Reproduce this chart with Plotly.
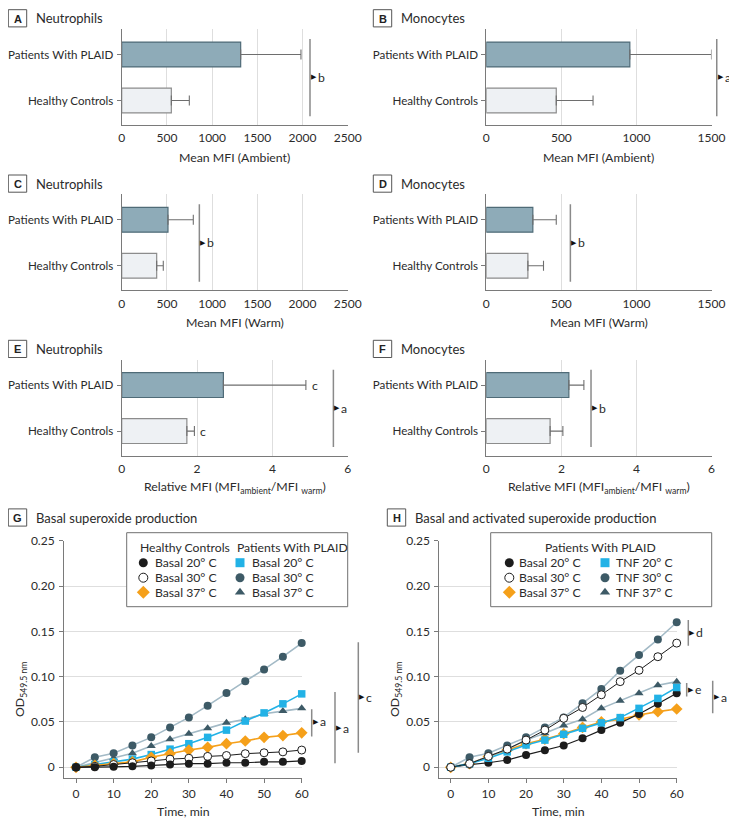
import plotly.graph_objects as go

# The page body has an 8 px margin, so the figure is shifted by OFF px.
OFF = 8
PW, PH = 737, 828              # reference picture size
W, H = PW - OFF, PH - OFF      # figure size
FONT = "Lato"
TXT = "#2b2b2b"

# ---------------- data ----------------
categories = ["Healthy Controls", "Patients With PLAID"]

a_mean = [549, 1316]
a_err = [199, 667]
b_mean = [466, 956]
b_err = [245, 544]
c_mean = [387, 512]
c_err = [73, 280]
d_mean = [277, 310]
d_err = [104, 156]
e_mean = [1.73, 2.70]
e_err = [0.20, 2.19]
f_mean = [1.70, 2.20]
f_err = [0.34, 0.40]

sig_values = {"A": 2083, "B": 1535, "C": 859, "D": 560, "E": 5.62, "F": 2.79}
sig_letters = {"A": "b", "B": "a", "C": "b", "D": "b", "E": "a", "F": "b"}
e_err_labels = ["c", "c"]

time_min = [0, 5, 10, 15, 20, 25, 30, 35, 40, 45, 50, 55, 60]

# Panel G
g_hc_20 = [0, 0, 0.0005, 0.001, 0.002, 0.003, 0.004, 0.004, 0.005, 0.005, 0.006, 0.006, 0.007]
g_hc_30 = [0, 0.001, 0.003, 0.005, 0.007, 0.009, 0.010, 0.012, 0.013, 0.015, 0.016, 0.017, 0.019]
g_hc_37 = [0, 0.002, 0.004, 0.006, 0.011, 0.015, 0.019, 0.022, 0.026, 0.029, 0.033, 0.035, 0.038]
g_pt_20 = [0, 0.003, 0.006, 0.009, 0.014, 0.020, 0.026, 0.033, 0.041, 0.051, 0.060, 0.070, 0.081]
g_pt_30 = [0, 0.011, 0.0155, 0.024, 0.033, 0.044, 0.055, 0.068, 0.082, 0.095, 0.108, 0.122, 0.137]
g_pt_37 = [0, 0.005, 0.010, 0.0155, 0.0235, 0.031, 0.037, 0.043, 0.049, 0.053, 0.059, 0.062, 0.065]

# Panel H
h_b_20 = [0, 0.003, 0.005, 0.008, 0.0136, 0.0188, 0.024, 0.032, 0.041, 0.049, 0.0588, 0.070, 0.0817]
h_b_30 = [0, 0.004, 0.012, 0.020, 0.030, 0.041, 0.054, 0.066, 0.080, 0.0945, 0.107, 0.122, 0.137]
h_b_37 = [0, 0.004, 0.012, 0.019, 0.026, 0.031, 0.037, 0.044, 0.050, 0.053, 0.0577, 0.0614, 0.0643]
h_t_20 = [0, 0.004, 0.010, 0.017, 0.0246, 0.030, 0.0364, 0.043, 0.049, 0.0548, 0.065, 0.076, 0.088]
h_t_30 = [0, 0.011, 0.0155, 0.024, 0.033, 0.044, 0.055, 0.0706, 0.0864, 0.1066, 0.124, 0.141, 0.160]
h_t_37 = [0, 0.004, 0.012, 0.020, 0.030, 0.0375, 0.046, 0.053, 0.065, 0.0735, 0.0817, 0.0905, 0.0945]

# significance brackets for G and H: (x in minutes, y_top, y_bottom, y_arrow, letter)
g_brackets = [(62.66, 0.064, 0.034, 0.0505, "a"),
              (68.85, 0.083, 0.0045, 0.043, "a"),
              (75.05, 0.138, 0.016, 0.0775, "c")]
h_brackets = [(63.08, 0.1626, 0.134, 0.1486, "d"),
              (62.65, 0.093, 0.078, 0.0855, "e"),
              (69.56, 0.0956, 0.0596, 0.077, "a")]

# ---------------- styles ----------------
PT_FILL, PT_LINE = "#8eabb8", "#4f6b77"
HC_FILL, HC_LINE = "#eef1f4", "#8c8c8c"
GRID = "#dedede"
AXL = "#7a7a7a"
C_BLACK = "#1c1c1c"
C_ORANGE = "#f5a01a"
C_CYAN = "#22b2e6"
C_TEAL = "#3d5a66"
C_TEAL_LINE = "#a3bac6"

S_TICK = 12
S_CAT = 11.6
S_TITLE = 13
S_AXT = 12.3
S_LEG = 12.2


def xdom(p0, p1):
    return [(p0 - OFF) / W, (p1 - OFF) / W]


def ydom(top, bot):
    return [1 - (bot - OFF) / H, 1 - (top - OFF) / H]


fig = go.Figure()
layout = dict(
    width=W, height=H, margin=dict(l=0, r=0, t=0, b=0, autoexpand=False),
    paper_bgcolor="white", plot_bgcolor="rgba(0,0,0,0)",
    showlegend=False, font=dict(family=FONT, size=12, color=TXT),
)
annotations = []
shapes = []

# overlay axis in reference-picture pixel coordinates (labels, legends)
layout["xaxis9"] = dict(domain=[0, 1], range=[OFF, PW], visible=False, fixedrange=True,
                        anchor="y9", automargin=False)
layout["yaxis9"] = dict(domain=[0, 1], range=[PH, OFF], visible=False, fixedrange=True,
                        anchor="x9", automargin=False)


def px_text(x, y, text, size=S_LEG, xanchor="left", bold=False, color=TXT, family=FONT):
    annotations.append(dict(xref="x9", yref="y9", x=x, y=y, text=("<b>%s</b>" % text) if bold else text,
                            showarrow=False, xanchor=xanchor, yanchor="middle",
                            font=dict(family=family, size=size, color=color)))


def panel_label(x0, yc, letter, title):
    shapes.append(dict(type="rect", xref="x9", yref="y9", x0=x0, x1=x0 + 18.4, y0=yc - 8.6, y1=yc + 8.6,
                       line=dict(color="#555", width=1), fillcolor="white"))
    px_text(x0 + 9.2, yc + 0.5, letter, size=11, xanchor="center", bold=True, color="#222",
            family="Liberation Sans, Arial")
    px_text(x0 + 25.5, yc, title, size=S_TITLE)


# ---------------- bar panels ----------------
LEFT = (121.7, 347.7)
RIGHT = (486.3, 711.5)
rows = [(29, 125), (194.3, 290.3), (359.6, 455.6)]
YR = [-0.533, 1.554]

bar_panels = [
    ("A", a_mean, a_err, 2500, 500, 0, LEFT, "Neutrophils", "Mean MFI (Ambient)"),
    ("B", b_mean, b_err, 1500, 500, 0, RIGHT, "Monocytes", "Mean MFI (Ambient)"),
    ("C", c_mean, c_err, 2500, 500, 1, LEFT, "Neutrophils", "Mean MFI (Warm)"),
    ("D", d_mean, d_err, 1500, 500, 1, RIGHT, "Monocytes", "Mean MFI (Warm)"),
    ("E", e_mean, e_err, 6, 2, 2, LEFT, "Neutrophils",
     "Relative MFI (MFI<sub>ambient</sub>/MFI <sub>warm</sub>)"),
    ("F", f_mean, f_err, 6, 2, 2, RIGHT, "Monocytes",
     "Relative MFI (MFI<sub>ambient</sub>/MFI <sub>warm</sub>)"),
]

for i, (key, mean, err, xmax, dt, r, col, title, xtitle) in enumerate(bar_panels):
    n = i + 1
    xa = "x%d" % n
    ya = "y%d" % n
    top, bot = rows[r]
    xd = xdom(*col)
    fig.add_trace(go.Bar(
        x=mean, y=[0, 1], orientation="h", width=0.54,
        marker=dict(color=[HC_FILL, PT_FILL], line=dict(color=[HC_LINE, PT_LINE], width=1.2)),
        error_x=dict(type="data", array=err, arrayminus=[0, 0], symmetric=False,
                     color="#6e6e6e", thickness=1.1, width=5),
        xaxis=xa, yaxis=ya, hoverinfo="skip",
    ))
    layout["xaxis%d" % n] = dict(
        domain=xd, range=[0, xmax], anchor=ya, tickvals=list(range(0, int(xmax) + 1, dt)),
        showgrid=True, gridcolor=GRID, gridwidth=1, zeroline=False,
        showline=True, linecolor=AXL, linewidth=1, ticks="", ticklabelstandoff=2,
        tickfont=dict(family=FONT, size=S_TICK, color=TXT), fixedrange=True, automargin=False,
    )
    layout["yaxis%d" % n] = dict(
        domain=ydom(top, bot), range=YR, anchor=xa, tickvals=[0, 1], ticktext=categories,
        showgrid=False, zeroline=False, showline=True, linecolor=AXL, linewidth=1,
        ticks="outside", ticklen=4, tickcolor=AXL, ticklabelstandoff=1,
        tickfont=dict(family=FONT, size=S_CAT, color=TXT), fixedrange=True, automargin=False,
    )
    lx = 8.3 if col == LEFT else 373.3
    panel_label(lx, 18.3 + 165.3 * r, key, title)
    px_text((col[0] + col[1]) / 2, 157 + 165.3 * r, xtitle, size=S_AXT, xanchor="center")
    sv = sig_values[key]
    xp = xd[0] + sv / xmax * (xd[1] - xd[0])
    shapes.append(dict(type="line", xref="paper", yref=ya, x0=xp, x1=xp, y0=1.335, y1=-0.345,
                       line=dict(color="#8a8a8a", width=1.5)))
    annotations.append(dict(xref="paper", yref=ya, x=xp, y=0.5, text="▶", showarrow=False,
                            xanchor="left", yanchor="middle", xshift=-1,
                            font=dict(family="DejaVu Sans", size=7, color="#111")))
    annotations.append(dict(xref="paper", yref=ya, x=xp, y=0.5, text=sig_letters[key], showarrow=False,
                            xanchor="left", yanchor="middle", xshift=6,
                            font=dict(family=FONT, size=S_LEG, color=TXT)))
    if key == "E":
        for yy, (m, e, lab) in enumerate(zip(mean, err, e_err_labels)):
            annotations.append(dict(xref=xa, yref=ya, x=m + e, y=yy, text=lab, showarrow=False,
                                    xanchor="left", yanchor="middle", xshift=4,
                                    font=dict(family=FONT, size=S_LEG, color=TXT)))

# ---------------- line panels ----------------
def add_series(xa, ya, y, color, line_color, symbol, fill=None, size=8, lw=1.6):
    fig.add_trace(go.Scatter(
        x=time_min, y=y, mode="lines+markers", xaxis=xa, yaxis=ya, cliponaxis=False,
        line=dict(color=line_color, width=lw),
        marker=dict(symbol=symbol, size=size, color=fill if fill else color,
                    line=dict(color=color, width=1 if fill else 0)),
        hoverinfo="skip",
    ))


G_X = (64, 302)
H_X = (439.3, 677)
LT, LB = 540.7, 777.7
Y_RANGE = [-0.0115, 0.25]
G_RANGE = [-3.19, 60.08]
H_RANGE = [-3.03, 60.08]

for n, xd_px, xr in [(7, G_X, G_RANGE), (8, H_X, H_RANGE)]:
    layout["xaxis%d" % n] = dict(
        domain=xdom(*xd_px), range=xr, anchor="y%d" % n, tickvals=list(range(0, 61, 10)),
        showgrid=False, zeroline=False, showline=True, linecolor=AXL, linewidth=1,
        ticks="outside", ticklen=4, tickcolor=AXL, ticklabelstandoff=1,
        tickfont=dict(family=FONT, size=S_TICK, color=TXT), fixedrange=True, automargin=False,
    )
    layout["yaxis%d" % n] = dict(
        domain=ydom(LT, LB), range=Y_RANGE, anchor="x%d" % n,
        tickvals=[0, 0.05, 0.10, 0.15, 0.20, 0.25],
        ticktext=["0", "0.05", "0.10", "0.15", "0.20", "0.25"],
        showgrid=True, gridcolor=GRID, gridwidth=1, zeroline=False,
        showline=True, linecolor=AXL, linewidth=1, ticks="outside", ticklen=4, tickcolor=AXL,
        ticklabelstandoff=2, tickfont=dict(family=FONT, size=S_TICK, color=TXT), fixedrange=True,
        automargin=False,
    )

# G series (draw order: back to front)
add_series("x7", "y7", g_pt_30, C_TEAL, C_TEAL_LINE, "circle")
add_series("x7", "y7", g_pt_37, C_TEAL, C_TEAL_LINE, "triangle-up")
add_series("x7", "y7", g_pt_20, C_CYAN, C_CYAN, "square", size=7.5)
add_series("x7", "y7", g_hc_37, C_ORANGE, C_ORANGE, "diamond", size=9)
add_series("x7", "y7", g_hc_30, C_BLACK, C_BLACK, "circle", fill="white", lw=1)
add_series("x7", "y7", g_hc_20, C_BLACK, C_BLACK, "circle", lw=1.2)

# H series
add_series("x8", "y8", h_b_37, C_ORANGE, C_ORANGE, "diamond", size=9)
add_series("x8", "y8", h_t_37, C_TEAL, C_TEAL_LINE, "triangle-up")
add_series("x8", "y8", h_b_20, C_BLACK, C_BLACK, "circle", lw=1.2)
add_series("x8", "y8", h_t_20, C_CYAN, C_CYAN, "square", size=7.5)
add_series("x8", "y8", h_t_30, C_TEAL, C_TEAL_LINE, "circle")
add_series("x8", "y8", h_b_30, C_BLACK, C_BLACK, "circle", fill="white", lw=1)

for n, brackets, xd_px, xr in [(7, g_brackets, G_X, G_RANGE), (8, h_brackets, H_X, H_RANGE)]:
    xd = xdom(*xd_px)
    for bx, yt, yb, yarr, lab in brackets:
        xp = xd[0] + (bx - xr[0]) / (xr[1] - xr[0]) * (xd[1] - xd[0])
        shapes.append(dict(type="line", xref="paper", yref="y%d" % n, x0=xp, x1=xp, y0=yt, y1=yb,
                           line=dict(color="#8a8a8a", width=1.5)))
        annotations.append(dict(xref="paper", yref="y%d" % n, x=xp, y=yarr, text="▶", showarrow=False,
                                xanchor="left", yanchor="middle", xshift=-1,
                                font=dict(family="DejaVu Sans", size=7, color="#111")))
        annotations.append(dict(xref="paper", yref="y%d" % n, x=xp, y=yarr, text=lab, showarrow=False,
                                xanchor="left", yanchor="middle", xshift=6,
                                font=dict(family=FONT, size=S_LEG, color=TXT)))

panel_label(8.3, 517.5, "G", "Basal superoxide production")
panel_label(387.3, 517.5, "H", "Basal and activated superoxide production")

px_text((G_X[0] + G_X[1]) / 2, 811.7, "Time, min", size=S_AXT, xanchor="center")
px_text((H_X[0] + H_X[1]) / 2, 811.7, "Time, min", size=S_AXT, xanchor="center")
for xx in (20, 395):
    annotations.append(dict(xref="x9", yref="y9", x=xx, y=690, text="OD<sub>549.5 nm</sub>",
                            showarrow=False, textangle=-90, xanchor="center", yanchor="middle",
                            font=dict(family=FONT, size=S_AXT, color=TXT)))

# ---------------- custom legends ----------------
leg_names_g = ["Basal 20° C", "Basal 30° C", "Basal 37° C"]
leg_rows = [562.7, 577.7, 592.3]


def legend_marker(x, y, color, symbol, fill=None, size=9):
    fig.add_trace(go.Scatter(
        x=[x], y=[y], mode="markers", xaxis="x9", yaxis="y9", cliponaxis=False,
        marker=dict(symbol=symbol, size=size, color=fill if fill else color,
                    line=dict(color=color, width=1 if fill else 0)),
        hoverinfo="skip",
    ))


shapes.append(dict(type="rect", xref="x9", yref="y9", x0=126.7, x1=347.7, y0=532.7, y1=606.7,
                   line=dict(color="#707070", width=1), fillcolor="white", layer="below"))
shapes.append(dict(type="rect", xref="x9", yref="y9", x0=490.7, x1=711.7, y0=532.7, y1=606.7,
                   line=dict(color="#707070", width=1), fillcolor="white", layer="below"))

px_text(138.3, 547.3, "Healthy Controls")
px_text(235, 547.3, "Patients With PLAID")
px_text(600.5, 547.3, "Patients With PLAID", xanchor="center")

g_left = [(C_BLACK, "circle", None), (C_BLACK, "circle", "white"), (C_ORANGE, "diamond", None)]
g_right = [(C_CYAN, "square", None), (C_TEAL, "circle", None), (C_TEAL, "triangle-up", None)]
h_right_names = ["TNF 20° C", "TNF 30° C", "TNF 37° C"]

for i, yy in enumerate(leg_rows):
    c, s, f = g_left[i]
    legend_marker(143.3, yy, c, s, f, size=10 if s == "diamond" else 9)
    px_text(152.5, yy, leg_names_g[i])
    c, s, f = g_right[i]
    legend_marker(240, yy, c, s, f, size=9)
    px_text(249.5, yy, leg_names_g[i])
    c, s, f = g_left[i]
    legend_marker(509.3, yy, c, s, f, size=10 if s == "diamond" else 9)
    px_text(517.2, yy, leg_names_g[i])
    c, s, f = g_right[i]
    legend_marker(605, yy, c, s, f, size=9)
    px_text(613.8, yy, h_right_names[i])

layout["annotations"] = annotations
layout["shapes"] = shapes
fig.update_layout(**layout)
fig.write_html("out.html")
